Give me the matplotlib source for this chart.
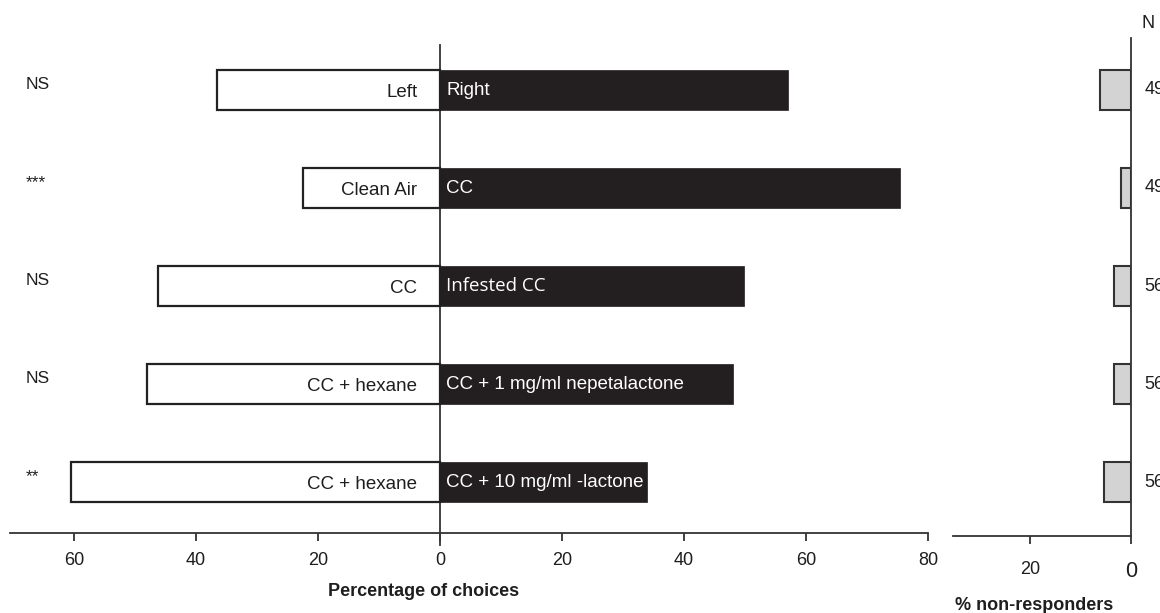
import matplotlib.pyplot as plt

plt.rcParams['font.family'] = ['Liberation Sans', 'DejaVu Sans']

# data
left_labels = ["Left", "Clean Air", "CC", "CC + hexane", "CC + hexane"]
right_labels = ["Right", "CC", "Infested CC", "CC + 1 mg/ml nepetalactone", "CC + 10 mg/ml -lactone"]
left_pct = [36.6, 22.5, 46.2, 48.0, 60.5]
right_pct = [57.0, 75.4, 49.8, 48.0, 33.9]
signif = ["NS", "***", "NS", "NS", "**"]
non_resp = [6.1, 2.0, 3.4, 3.4, 5.3]
n_vals = [49, 49, 56, 56, 56]
main_ticks = [-60, -40, -20, 0, 20, 40, 60, 80]
main_ticklabels = ["60", "40", "20", "0", "20", "40", "60", "80"]
nr_ticks = [20, 0]

W, H = 1160, 613
fig = plt.figure(figsize=(W / 100, H / 100), dpi=100)
line_col = "#333333"
txt_col = "#1e1e1e"
rows = list(range(len(left_labels)))
bar_h = 0.41

# main panel
ax = fig.add_axes([10 / W, (H - 533) / H, (928 - 10) / W, (533 - 45) / H])
ax.barh(rows, [-v for v in left_pct], height=bar_h, color="white",
        edgecolor="#222222", linewidth=1.6, zorder=3)
ax.barh(rows, right_pct, height=bar_h, color="#231f20",
        edgecolor="#231f20", linewidth=0.5, zorder=3)
ax.set_xlim(-70.5, 80)
ax.set_ylim(4.52, -0.46)
ax.axvline(0, ymin=-0.025, ymax=1, color=line_col, linewidth=1.3,
           clip_on=False, zorder=2)

for i in rows:
    ax.text(-3.7, i + 0.02, left_labels[i], ha="right", va="center",
            fontsize=13.5, color=txt_col, zorder=4)
    fam = ["Open Sans", "DejaVu Sans"] if right_labels[i] == "Infested CC" else None
    ax.text(1.0, i, right_labels[i], ha="left", va="center",
            fontsize=13.5, color="white", zorder=4, family=fam)
    ax.text(-68.0, i - 0.06, signif[i], ha="left", va="center",
            fontsize=12.5, color=txt_col)

for s in ["top", "left", "right"]:
    ax.spines[s].set_visible(False)
ax.spines["bottom"].set_color(line_col)
ax.spines["bottom"].set_linewidth(1.3)
ax.set_yticks([])
ax.set_xticks(main_ticks)
ax.set_xticklabels(main_ticklabels)
ax.tick_params(axis="x", direction="out", length=6, width=1.3,
               color=line_col, labelsize=13, labelcolor=txt_col, pad=8)

# non-responders panel
ax2 = fig.add_axes([953 / W, (H - 536) / H, (1131 - 953) / W, (536 - 38) / H])
ax2.barh(rows, non_resp, height=bar_h, color="#d3d3d3",
         edgecolor="#333333", linewidth=1.5, zorder=3)
ax2.set_xlim(35.2, 0)
ax2.set_ylim(4.55, -0.53)
for s in ["top", "left"]:
    ax2.spines[s].set_visible(False)
for s in ["bottom", "right"]:
    ax2.spines[s].set_color(line_col)
    ax2.spines[s].set_linewidth(1.3)
ax2.set_yticks([])
ax2.set_xticks(nr_ticks)
ax2.tick_params(axis="x", direction="out", length=6, width=1.3,
                color=line_col, labelsize=13, labelcolor=txt_col, pad=12)
ax2.get_xticklabels()[-1].set_fontsize(15.5)

for i in rows:
    ax2.text(-2.6, i, str(n_vals[i]), ha="left", va="center",
             fontsize=13, color=txt_col, clip_on=False)
ax2.text(-3.4, -0.68, "N", ha="center", va="center", fontsize=13,
         color=txt_col, clip_on=False)

fig.text(424 / W, 1 - 592 / H, "Percentage of choices", ha="center",
         va="center", fontsize=13, fontweight="bold", color=txt_col)
fig.text(1034 / W, 1 - 605 / H, "% non-responders", ha="center",
         va="center", fontsize=13, fontweight="bold", color=txt_col)

fig.savefig("out.png", dpi=100)
